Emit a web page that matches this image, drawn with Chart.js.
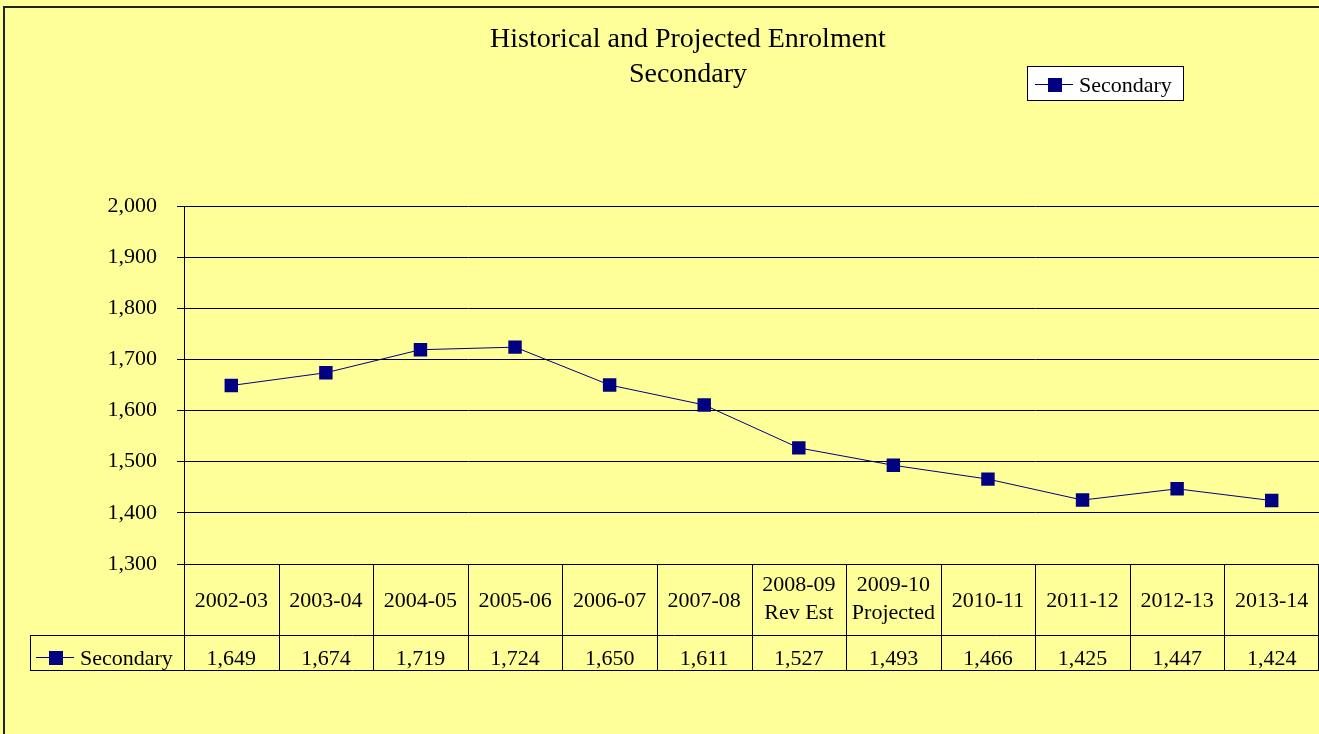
<!DOCTYPE html>
<html>
<head>
<meta charset="utf-8">
<script src="https://cdn.jsdelivr.net/npm/chart.js@4"></script>
<style>
  html, body { margin: 0; padding: 0; background: #ffff99; }
  #wrap { width: 1319px; height: 734px; position: relative; }
</style>
</head>
<body>
<div id="wrap"><canvas id="enrol"></canvas></div>
<script>
// Data
const categories = [
  ['2002-03'], ['2003-04'], ['2004-05'], ['2005-06'], ['2006-07'], ['2007-08'],
  ['2008-09', 'Rev Est'], ['2009-10', 'Projected'],
  ['2010-11'], ['2011-12'], ['2012-13'], ['2013-14'],
];
const secondary = [1649, 1674, 1719, 1724, 1650, 1611, 1527, 1493, 1466, 1425, 1447, 1424];
const seriesName = 'Secondary';
const titleLines = ['Historical and Projected Enrolment', 'Secondary'];
const yMin = 1300;
const yMax = 2000;
const yStep = 100;

const FONT = '"Liberation Serif", "Times New Roman", serif';
const NAVY = '#000080';

function fmt(n) {
  return n.toLocaleString('en-US');
}

// draws the little line+square legend key
function drawKey(ctx, x, y) {
  ctx.strokeStyle = NAVY;
  ctx.lineWidth = 1;
  ctx.beginPath();
  ctx.moveTo(x, y + 0.5);
  ctx.lineTo(x + 38, y + 0.5);
  ctx.stroke();
  ctx.fillStyle = NAVY;
  ctx.fillRect(x + 13, y - 6, 14, 14);
}

const frame = {
  id: 'frame',
  beforeDraw(chart) {
    const ctx = chart.ctx;
    ctx.save();
    ctx.fillStyle = '#ffff99';
    ctx.fillRect(0, 0, chart.width, chart.height);
    ctx.fillStyle = '#222';
    ctx.fillRect(3, 6, 2, chart.height - 6);
    ctx.fillRect(3, 6, chart.width - 3, 2);
    ctx.restore();
  },
  afterDraw(chart) {
    const ctx = chart.ctx;
    const x = chart.scales.x;
    const area = chart.chartArea;
    ctx.save();

    // title
    ctx.fillStyle = '#000';
    ctx.font = '28px ' + FONT;
    ctx.textAlign = 'center';
    ctx.textBaseline = 'middle';
    ctx.fillText(titleLines[0], 688, 40);
    ctx.fillText(titleLines[1], 688, 75);

    // legend box
    ctx.fillStyle = '#fff';
    ctx.fillRect(1027.5, 66.5, 156, 34);
    ctx.strokeStyle = '#000';
    ctx.lineWidth = 1;
    ctx.strokeRect(1027.5, 66.5, 156, 34);
    drawKey(ctx, 1035, 84);
    ctx.fillStyle = '#000';
    ctx.font = '22px ' + FONT;
    ctx.textAlign = 'left';
    ctx.fillText(seriesName, 1079, 86);

    // data table under the plot
    const half = (x.getPixelForValue(1) - x.getPixelForValue(0)) / 2;
    const top = area.bottom;
    const mid = 635;
    const bot = 670;
    const tableLeft = 30;
    const right = chart.width - 1;

    ctx.strokeStyle = '#000';
    ctx.lineWidth = 1;
    ctx.beginPath();
    for (let i = 0; i <= categories.length; i++) {
      const px = Math.min(Math.round(x.getPixelForValue(i) - half), right) + 0.5;
      ctx.moveTo(px, top);
      ctx.lineTo(px, bot);
    }
    ctx.moveTo(tableLeft, mid + 0.5);
    ctx.lineTo(chart.width, mid + 0.5);
    ctx.moveTo(tableLeft, bot + 0.5);
    ctx.lineTo(chart.width, bot + 0.5);
    ctx.moveTo(tableLeft + 0.5, mid);
    ctx.lineTo(tableLeft + 0.5, bot);
    ctx.stroke();

    ctx.font = '22px ' + FONT;
    ctx.textAlign = 'center';
    ctx.fillStyle = '#000';
    categories.forEach((lines, i) => {
      const cx = x.getPixelForValue(i);
      if (lines.length === 1) {
        ctx.fillText(lines[0], cx, 601);
      } else {
        ctx.fillText(lines[0], cx, 585);
        ctx.fillText(lines[1], cx, 613);
      }
      ctx.fillText(fmt(secondary[i]), cx, 659);
    });

    drawKey(ctx, 36, 657);
    ctx.fillStyle = '#000';
    ctx.textAlign = 'left';
    ctx.fillText(seriesName, 80, 659);
    ctx.restore();
  },
};

new Chart(document.getElementById('enrol'), {
  type: 'line',
  data: {
    labels: categories.map(c => c.join(' ')),
    datasets: [{
      label: seriesName,
      data: secondary,
      borderColor: NAVY,
      borderWidth: 1,
      backgroundColor: NAVY,
      pointStyle: 'rect',
      pointRadius: 9.5,
      pointHoverRadius: 9.5,
      pointBackgroundColor: NAVY,
      pointBorderColor: NAVY,
      pointBorderWidth: 0,
      tension: 0,
    }],
  },
  options: {
    responsive: true,
    maintainAspectRatio: false,
    animation: false,
    layout: { autoPadding: false, padding: { top: 206, bottom: 170, left: 0, right: 0 } },
    plugins: {
      legend: { display: false },
      title: { display: false },
      tooltip: { enabled: false },
    },
    scales: {
      x: {
        display: false,
        offset: true,
      },
      y: {
        min: yMin,
        max: yMax,
        ticks: {
          stepSize: yStep,
          color: '#000',
          padding: 20,
          font: { family: FONT, size: 22 },
          callback: v => fmt(v),
        },
        grid: { color: '#000', lineWidth: 1, tickLength: 7 },
        border: { color: '#000', width: 1 },
        afterFit: s => { s.width = 184; },
      },
    },
  },
  plugins: [frame],
});
</script>
</body>
</html>
